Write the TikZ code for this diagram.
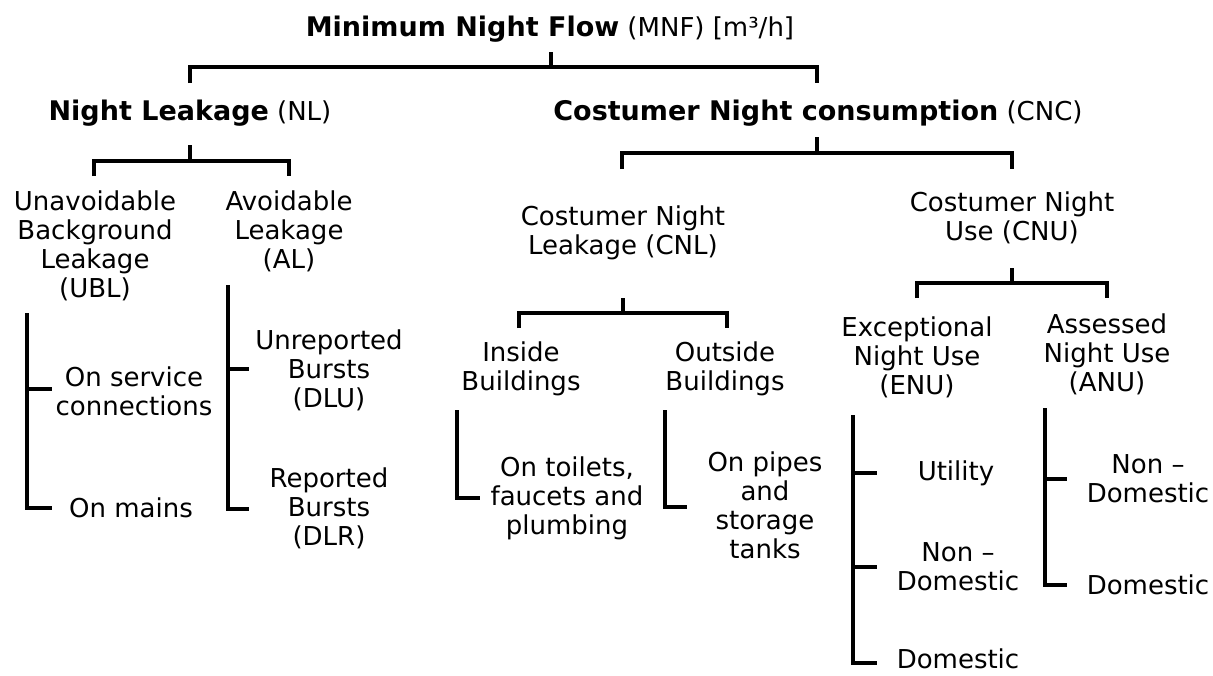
\documentclass[tikz,border=0pt]{standalone}
\usepackage{fontspec}
\setmainfont{DejaVu Sans}
\usepackage{xcolor}
\usepackage{tikz}

\begin{document}
\begin{tikzpicture}[x=1pt,y=-1pt,
                bar/.style={black, line width=4pt},
                txt/.style={align=center, inner sep=0pt, font=\fontsize{26}{29}\selectfont}]
                \useasboundingbox (0,0) rectangle (1213,675);

                %% MNF
                \node[txt] (mnf) at (550,29) {{\fontsize{27}{29}\selectfont\bfseries Minimum Night Flow} (MNF) [m³/h]};
                \coordinate (mnf-s) at (551,52);
                \coordinate (mnf-j) at (551,67);
                \coordinate (nl-t)  at (190,83);
                \coordinate (cnc-t) at (817,83);
                \draw[bar] (mnf-s) -- (mnf-j);
                \draw[bar] (nl-t) |- (mnf-j) -| (cnc-t);

                %% NL
                \node[txt] (nl) at (190,113) {{\fontsize{27}{29}\selectfont\bfseries Night Leakage} (NL)};
                \coordinate (nl-s)  at (190,145);
                \coordinate (nl-j)  at (190,161);
                \coordinate (ubl-t) at (94,176);
                \coordinate (al-t)  at (289,176);
                \draw[bar] (nl-s) -- (nl-j);
                \draw[bar] (ubl-t) |- (nl-j) -| (al-t);

                %UBL
                \node[txt] (ubl) at (95,246) {Unavoidable\\Background\\Leakage\\(UBL)};
                \node[txt] (serv)  at (134,391) {On service\\connections};
                \node[txt] (mains) at (131,508) {On mains};
                \coordinate (ubl-v)  at (27,313);
                \coordinate (serv-e) at (52,389);
                \coordinate (mains-e) at (52,508);
                \draw[bar] (ubl-v) |- (mains-e);
                \draw[bar] (ubl-v |- serv-e) -- (serv-e);

                %AL
                \node[txt] (al) at (289,231) {Avoidable\\Leakage\\(AL)};
                \node[txt] (dlu) at (329,370) {Unreported\\Bursts\\(DLU)};
                \node[txt] (dlr) at (329,508) {Reported\\Bursts\\(DLR)};
                \coordinate (al-v)  at (228,285);
                \coordinate (dlu-e) at (249,369);
                \coordinate (dlr-e) at (249,509);
                \draw[bar] (al-v) |- (dlr-e);
                \draw[bar] (al-v |- dlu-e) -- (dlu-e);

                %% CNC
                \node[txt] (cnc) at (818,113) {{\fontsize{27}{29}\selectfont\bfseries Costumer Night consumption} (CNC)};
                \coordinate (cnc-s) at (817,137);
                \coordinate (cnc-j) at (817,153);
                \coordinate (cnl-t) at (622,169);
                \coordinate (cnu-t) at (1012,169);
                \draw[bar] (cnc-s) -- (cnc-j);
                \draw[bar] (cnl-t) |- (cnc-j) -| (cnu-t);

                %CNL
                \node[txt] (cnl) at (623,233) {Costumer Night\\Leakage (CNL)};
                \coordinate (cnl-s) at (623,298);
                \coordinate (cnl-j) at (623,313);
                \coordinate (ins-t) at (519,328);
                \coordinate (out-t) at (727,328);
                \draw[bar] (cnl-s) -- (cnl-j);
                \draw[bar] (ins-t) |- (cnl-j) -| (out-t);

                \node[txt] (ins) at (521,369) {Inside\\Buildings};
                \node[txt] (toil) at (567,498) {On toilets,\\faucets and\\plumbing};
                \coordinate (ins-v)  at (457,410);
                \coordinate (toil-e) at (480,498);
                \draw[bar] (ins-v) |- (toil-e);

                \node[txt] (out) at (725,369) {Outside\\Buildings};
                \node[txt] (pipe) at (765,505) {On pipes\\and\\storage\\tanks};
                \coordinate (out-v)  at (665,410);
                \coordinate (pipe-e) at (687,507);
                \draw[bar] (out-v) |- (pipe-e);

                %CNU
                \node[txt] (cnu) at (1012,218) {Costumer Night\\Use (CNU)};
                \coordinate (cnu-s) at (1012,268);
                \coordinate (cnu-j) at (1012,283);
                \coordinate (enu-t) at (917,298);
                \coordinate (anu-t) at (1107,298);
                \draw[bar] (cnu-s) -- (cnu-j);
                \draw[bar] (enu-t) |- (cnu-j) -| (anu-t);

                %ENU
                \node[txt] (enu) at (917,357) {Exceptional\\Night Use\\(ENU)};
                \node[txt] (util)  at (956,473) {Utility};
                \node[txt] (enund) at (958,567) {Non –\\Domestic};
                \node[txt] (enud)  at (958,659) {Domestic};
                \coordinate (enu-v)   at (853,415);
                \coordinate (util-e)  at (877,473);
                \coordinate (enund-e) at (877,567);
                \coordinate (enud-e)  at (877,663);
                \draw[bar] (enu-v) |- (enud-e);
                \draw[bar] (enu-v |- util-e) -- (util-e);
                \draw[bar] (enu-v |- enund-e) -- (enund-e);

                %ANU
                \node[txt] (anu) at (1107,354) {Assessed\\Night Use\\(ANU)};
                \node[txt] (anund) at (1148,479) {Non –\\Domestic};
                \node[txt] (anud)  at (1148,585) {Domestic};
                \coordinate (anu-v)   at (1045,408);
                \coordinate (anund-e) at (1067,479);
                \coordinate (anud-e)  at (1067,585);
                \draw[bar] (anu-v) |- (anud-e);
                \draw[bar] (anu-v |- anund-e) -- (anund-e);

\end{tikzpicture}
\end{document}
